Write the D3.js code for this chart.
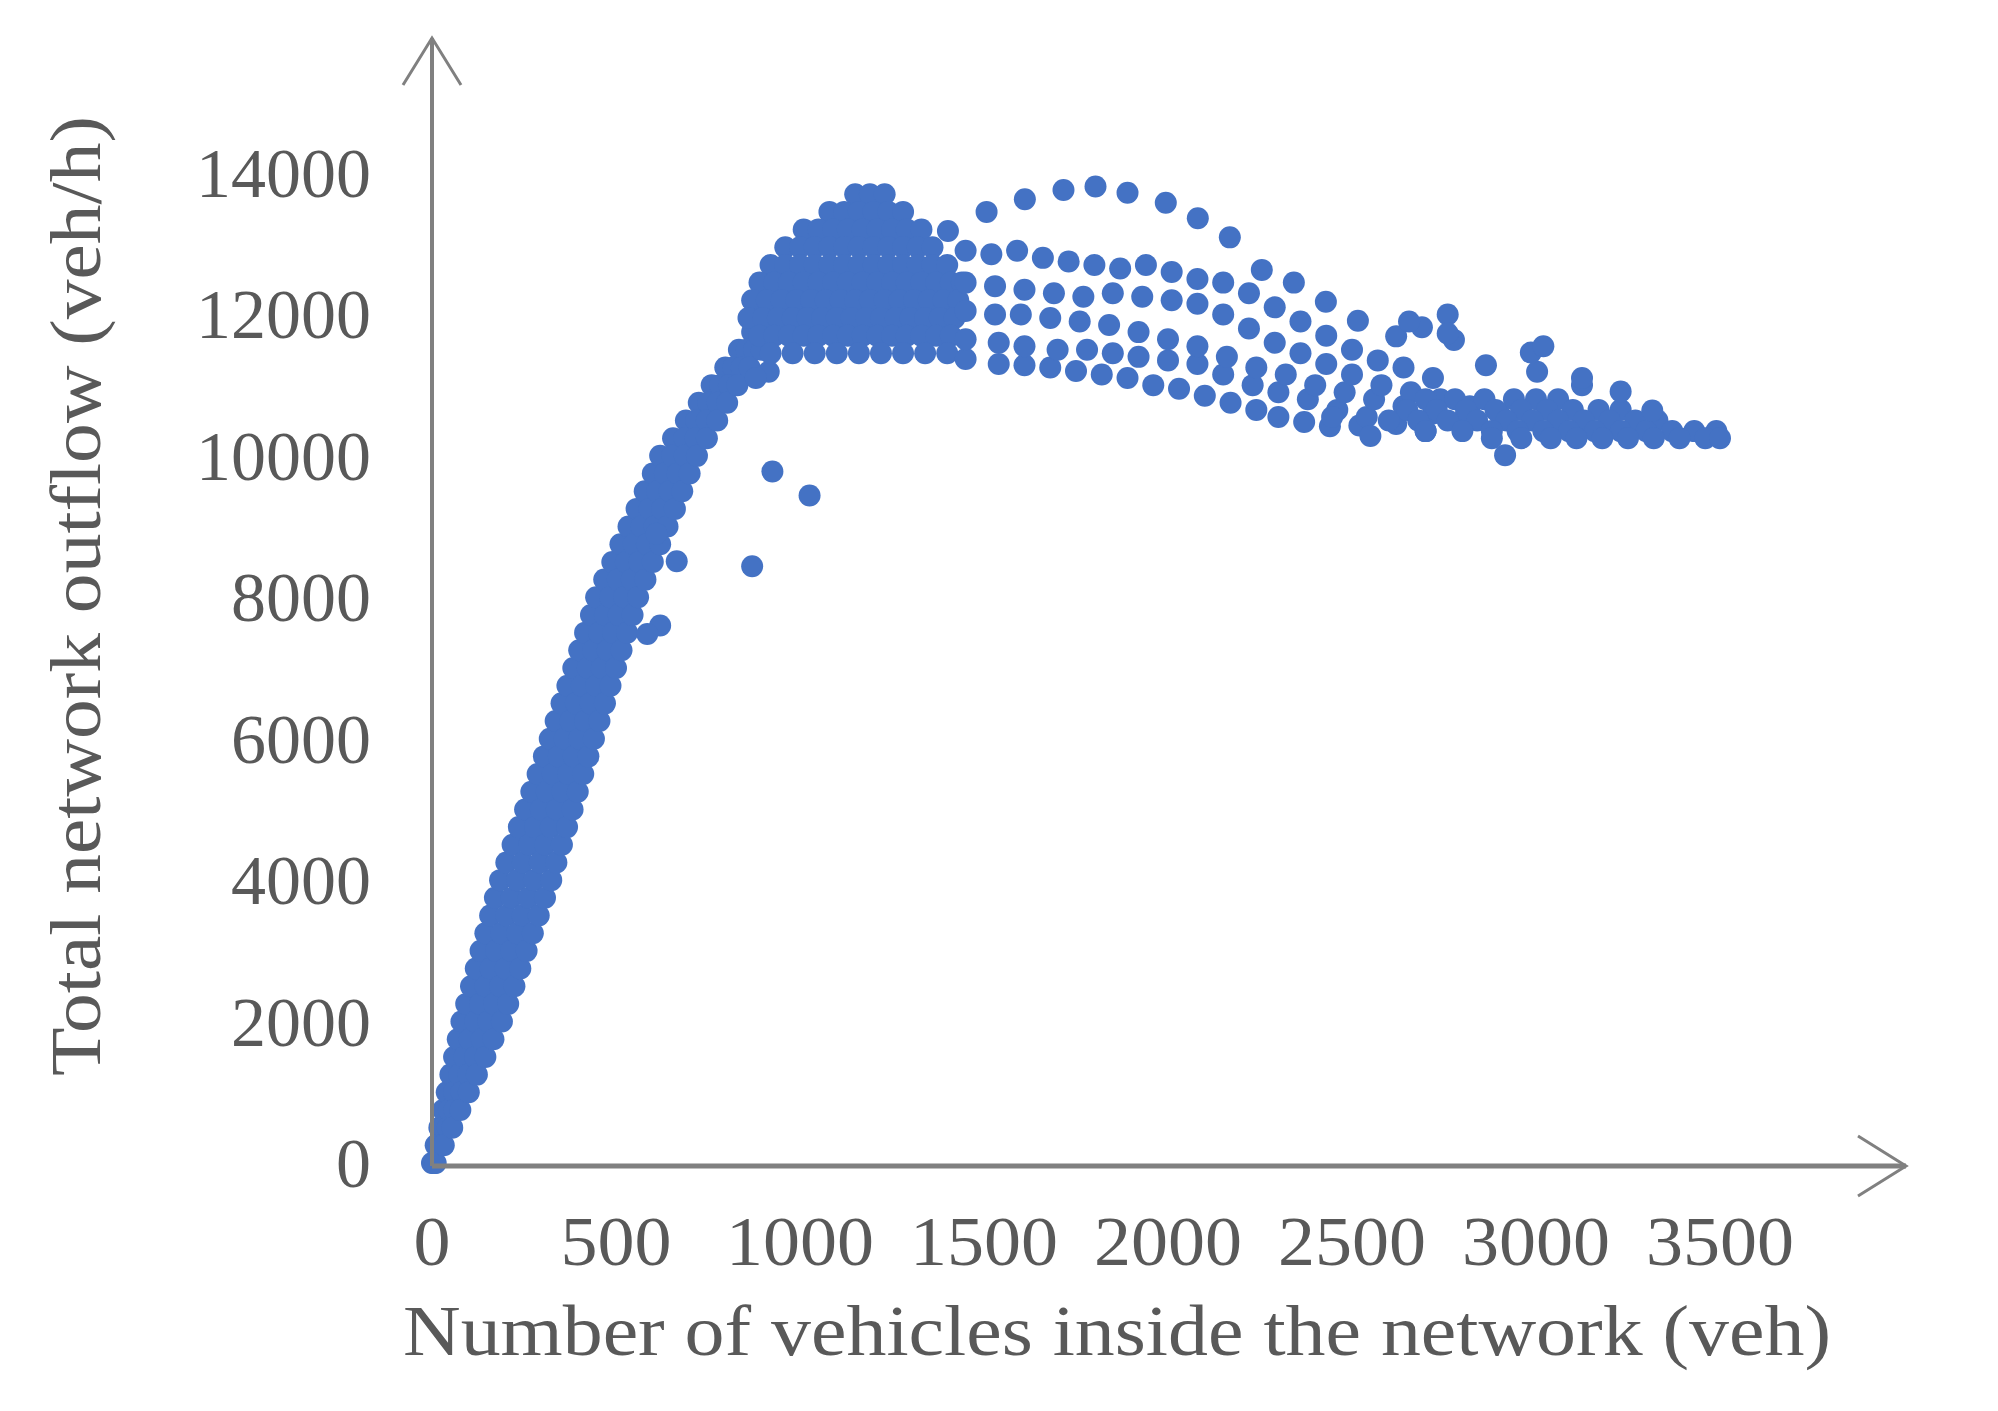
<!DOCTYPE html>
<html><head><meta charset="utf-8">
<script src="https://cdn.jsdelivr.net/npm/d3@7"></script>
<style>body{margin:0;background:#fff}</style></head>
<body><svg id="c" width="1998" height="1411"></svg>
<script>
const xTicks=[0,500,1000,1500,2000,2500,3000,3500];
const yTicks=[0,2000,4000,6000,8000,10000,12000,14000];
const xTitle="Number of vehicles inside the network (veh)";
const yTitle="Total network outflow (veh/h)";
// rising band: flow levels and vehicle counts on four lines across the band
const bandFlow=[0,250,500,750,1000,1250,1500,1750,2000,2250,2500,2750,3000,3250,3500,3750,4000,4250,4500,4750,5000,5250,5500,5750,6000,6250,6500,6750,7000,7250,7500,7750,8000,8250,8500,8750,9000,9250,9500,9750,10000,10250,10500,10750,11000,11250,11500,11750];
const bandLeft=[0,10,20,30,40,50,60,70,80,93,106,119,132,145,158,171,185,202,219,236,253,270,287,304,320,336,352,368,384,400,416,432,446,468,490,512,534,556,578,600,620,655,690,725,760,797,834,870];
const bandMid1=[3,17,32,46,60,74,88,102,117,131,145,159,174,188,202,216,231,247,264,280,296,312,328,344,360,376,391,407,423,438,454,470,484,505,527,548,569,591,612,633,653,686,718,751,783,819,855,890];
const bandMid2=[7,25,43,61,80,98,117,135,153,169,185,200,215,231,246,262,277,293,308,323,339,354,370,385,400,416,431,446,461,477,492,507,522,543,563,584,605,625,646,667,687,716,747,776,807,841,875,910];
const bandRight=[10,32,55,77,100,122,145,167,190,207,224,240,257,274,290,307,324,338,353,367,382,396,411,425,440,455,470,485,500,515,530,545,560,580,600,620,640,660,680,700,720,747,775,802,830,863,896,930];
const outliers=[[925,9780],[1026,9440],[870,8440],[665,8510],[620,7600],[585,7480],[610,8900],[915,11190],[880,11100]];
const peakCluster=[
[1150,13700],[1190,13700],[1230,13700],
[1080,13450],[1120,13450],[1160,13450],[1200,13450],[1240,13450],[1280,13450],
[1010,13200],[1050,13200],[1090,13200],[1130,13200],[1170,13200],[1210,13200],[1250,13200],[1290,13200],[1330,13200],
[960,12950],[1000,12950],[1040,12950],[1080,12950],[1120,12950],[1160,12950],[1200,12950],[1240,12950],[1280,12950],[1320,12950],[1360,12950],
[920,12700],[960,12700],[1000,12700],[1040,12700],[1080,12700],[1120,12700],[1160,12700],[1200,12700],[1240,12700],[1280,12700],[1320,12700],[1360,12700],[1400,12700],
[890,12450],[930,12450],[970,12450],[1010,12450],[1050,12450],[1090,12450],[1130,12450],[1170,12450],[1210,12450],[1250,12450],[1290,12450],[1330,12450],[1370,12450],[1410,12450],[1440,12450],
[870,12200],[910,12200],[950,12200],[990,12200],[1030,12200],[1070,12200],[1110,12200],[1150,12200],[1190,12200],[1230,12200],[1270,12200],[1310,12200],[1350,12200],[1390,12200],[1430,12200],
[860,11950],[900,11950],[940,11950],[980,11950],[1020,11950],[1060,11950],[1100,11950],[1140,11950],[1180,11950],[1220,11950],[1260,11950],[1300,11950],[1340,11950],[1380,11950],[1420,11950],
[890,11700],[930,11700],[970,11700],[1010,11700],[1050,11700],[1090,11700],[1130,11700],[1170,11700],[1210,11700],[1250,11700],[1290,11700],[1330,11700],[1370,11700],[1410,11700],
[920,11450],[980,11450],[1040,11450],[1100,11450],[1160,11450],[1220,11450],[1280,11450],[1340,11450],[1400,11450]];
const curveA=[[1450,11370],[1540,11300],[1610,11280],[1680,11250],[1750,11200],[1820,11150],[1890,11100],[1960,11000],[2030,10950],[2100,10850],[2170,10750],[2240,10650],[2300,10550],[2370,10480],[2440,10420],[2520,10430]];
const curveB=[[1450,11650],[1540,11600],[1610,11550],[1700,11500],[1780,11500],[1850,11450],[1920,11400],[2000,11350],[2080,11300],[2150,11150],[2230,11000],[2300,10900],[2380,10800],[2460,10650],[2540,10550],[2620,10450],[2700,10350]];
const curveC=[[1450,12050],[1530,12000],[1600,12000],[1680,11950],[1760,11900],[1840,11850],[1920,11750],[2000,11650],[2080,11550],[2160,11400],[2240,11250],[2320,11150],[2400,11000],[2480,10900],[2560,10800],[2640,10700],[2720,10600],[2800,10500]];
const curveD=[[1450,12450],[1530,12400],[1610,12350],[1690,12300],[1770,12250],[1850,12300],[1930,12250],[2010,12200],[2080,12150],[2150,12000],[2220,11800],[2290,11600],[2360,11450],[2430,11300],[2500,11150],[2580,11000],[2660,10900],[2740,10800],[2820,10700],[2900,10600]];
const curveD2=[[1450,12900],[1520,12850],[1590,12900],[1660,12800],[1730,12750],[1800,12700],[1870,12650],[1940,12700],[2010,12600],[2080,12500],[2150,12450],[2220,12300],[2290,12100],[2360,11900],[2430,11700],[2500,11500],[2570,11350],[2640,11250],[2720,11100]];
const curveE=[[1402,13180],[1507,13450],[1611,13630],[1716,13760],[1803,13810],[1890,13720],[1994,13580],[2081,13360],[2168,13090],[2255,12630],[2342,12450],[2429,12180],[2516,11910],[2620,11690],[2690,11820],[2777,11640],[2864,11280],[3003,11190],[3125,11000]];
const tail=[
[2700,10800],[2780,10800],[2860,10800],[2940,10800],[3000,10800],[3060,10800],
[2650,10650],[2730,10650],[2810,10650],[2890,10650],[2960,10650],[3030,10650],[3100,10650],[3170,10650],[3230,10650],
[2600,10500],[2680,10500],[2760,10500],[2840,10500],[2920,10500],[2990,10500],[3060,10500],[3130,10500],[3200,10500],[3270,10500],[3330,10500],
[2700,10350],[2800,10350],[2880,10350],[2950,10350],[3020,10350],[3090,10350],[3160,10350],[3230,10350],[3300,10350],[3370,10350],[3430,10350],[3490,10350],
[2880,10250],[2960,10250],[3040,10250],[3110,10250],[3180,10250],[3250,10250],[3320,10250],[3390,10250],[3460,10250],[3500,10250],
[2916,10010],[2550,10280],[2446,10550],[2655,11900],[2760,12000],[2760,11730],[2986,11460],[3020,11550],[3125,11100],[3230,10910],[3316,10640]];

const svg=d3.select("#c");
const x=d3.scaleLinear().domain([0,1000]).range([432,800]);
const y=d3.scaleLinear().domain([0,14000]).range([1163,173]);
const grey="#808080", tc="#595959", font="'Liberation Serif','Times New Roman',serif";

const pts=[];
[bandLeft,bandMid1,bandMid2,bandRight].forEach(a=>a.forEach((v,i)=>pts.push([v,bandFlow[i]])));
[outliers,peakCluster,curveA,curveB,curveC,curveD,curveD2,curveE,tail].forEach(a=>a.forEach(p=>pts.push(p)));
svg.append("g").selectAll("circle").data(pts).join("circle")
 .attr("cx",d=>x(d[0])).attr("cy",d=>y(d[1])).attr("r",11).attr("fill","#4472C4");

// axes
svg.append("line").attr("x1",x(0)).attr("x2",x(0)).attr("y1",y(0)+3).attr("y2",38).attr("stroke",grey).attr("stroke-width",4);
svg.append("path").attr("d",`M${x(0)-29},85L${x(0)},38L${x(0)+29},85`).attr("fill","none").attr("stroke",grey).attr("stroke-width",3);
svg.append("line").attr("x1",x(0)).attr("x2",1906).attr("y1",y(0)+3).attr("y2",y(0)+3).attr("stroke",grey).attr("stroke-width",5);
svg.append("path").attr("d",`M1858,${y(0)-27}L1906,${y(0)+3}L1858,${y(0)+33}`).attr("fill","none").attr("stroke",grey).attr("stroke-width",3);

svg.append("g").selectAll("text").data(yTicks).join("text")
 .attr("x",371).attr("y",d=>y(d)+24).attr("text-anchor","end")
 .attr("font-family",font).attr("font-size",70).attr("fill",tc).text(d=>d);
svg.append("g").selectAll("text").data(xTicks).join("text")
 .attr("x",d=>x(d)).attr("y",1265).attr("text-anchor","middle")
 .attr("font-family",font).attr("font-size",70).attr("fill",tc)
 .attr("textLength",d=>String(d).length*37).attr("lengthAdjust","spacingAndGlyphs").text(d=>d);
svg.append("text").attr("x",403).attr("y",1355).attr("font-family",font).attr("font-size",72).attr("fill",tc)
 .attr("textLength",1428).attr("lengthAdjust","spacingAndGlyphs").text(xTitle);
svg.append("text").attr("transform","translate(100,1076) rotate(-90)").attr("font-family",font).attr("font-size",72).attr("fill",tc)
 .attr("textLength",960).attr("lengthAdjust","spacingAndGlyphs").text(yTitle);
</script></body></html>
